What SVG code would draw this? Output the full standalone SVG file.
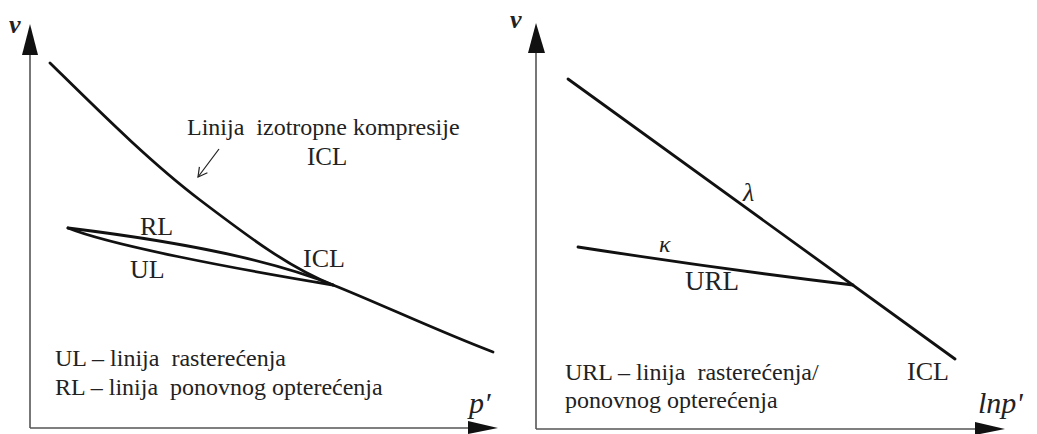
<svg xmlns="http://www.w3.org/2000/svg" width="1037" height="434" viewBox="0 0 1037 434">
<style>
.axis{stroke:#555;stroke-width:1.6;fill:none}
.curve{stroke:#111;stroke-width:2.8;fill:none;stroke-linecap:round}
.head{fill:#111}
text{font-family:'Liberation Serif','DejaVu Serif','Times New Roman',serif;fill:#222}
.t{white-space:pre}
.it{font-style:italic}
</style>
<defs>
<marker id="open" viewBox="0 0 12 12" refX="10" refY="6" markerWidth="12" markerHeight="12" markerUnits="userSpaceOnUse" orient="auto">
<polyline points="1,1 10,6 1,11" fill="none" stroke="#222" stroke-width="1.2"/>
</marker>
</defs>
<rect width="1037" height="434" fill="#fff"/>

<g id="left-axes">
<line class="axis" x1="30" y1="428" x2="30" y2="50"/>
<polygon class="head" points="30,24 22,55 38,55"/>
<line class="axis" x1="30" y1="428" x2="472" y2="428"/>
<polygon class="head" points="498,428 468,421 468,434"/>
<text class="it" x="9" y="33" font-size="26" font-weight="bold" font-family="Liberation Serif, serif">v</text>
<text class="it" x="469" y="413" font-size="30" font-family="Liberation Serif, serif">p′</text>
</g>

<g id="left-curves">
<path id="icl-left" class="curve" d="M50,63 C100,112 150,162 200,200 S290,268 333,285 S440,332 493,352"/>
<path id="rl" class="curve" d="M68,228 C150,238 260,255 333,285"/>
<path id="ul" class="curve" d="M68,228 C110,245 230,268 333,285"/>
</g>

<g id="connectors">
<line x1="219" y1="149" x2="198" y2="177" stroke="#222" stroke-width="1.2" marker-end="url(#open)"/>
</g>

<g id="left-labels" font-family="Liberation Serif, serif">
<text class="t" x="187" y="135" font-size="24">Linija  izotropne kompresije</text>
<text class="t" x="307" y="165" font-size="25">ICL</text>
<text class="t" x="140" y="235" font-size="26">RL</text>
<text class="t" x="130" y="278" font-size="26">UL</text>
<text class="t" x="303" y="267" font-size="26">ICL</text>
<text class="t" x="55" y="366" font-size="24">UL – linija  rasterećenja</text>
<text class="t" x="55" y="395" font-size="24">RL – linija  ponovnog opterećenja</text>
</g>

<g id="right-axes">
<line class="axis" x1="536" y1="429" x2="536" y2="50" stroke="#333"/>
<polygon class="head" points="536,23 528,53 545,53"/>
<line class="axis" x1="536" y1="429" x2="978" y2="429"/>
<polygon class="head" points="1005,429 975,422 975,435"/>
<text class="it" x="510" y="28" font-size="26" font-weight="bold" font-family="Liberation Serif, serif">v</text>
<text class="it" x="978" y="413" font-size="30" font-family="Liberation Serif, serif">lnp'</text>
</g>

<g id="right-curves">
<line id="icl-right" class="curve" x1="568" y1="79" x2="955" y2="359"/>
<path id="url" class="curve" d="M578,247 Q720,269 853,285"/>
</g>

<g id="right-labels" font-family="Liberation Serif, serif">
<text class="it" x="743" y="201" font-size="26">λ</text>
<text class="it" x="659" y="252" font-size="24">κ</text>
<text class="t" x="685" y="290" font-size="27">URL</text>
<text class="t" x="907" y="380" font-size="26">ICL</text>
<text class="t" x="565" y="380" font-size="24">URL – linija  rasterećenja/</text>
<text class="t" x="565" y="408" font-size="24">ponovnog opterećenja</text>
</g>
</svg>
